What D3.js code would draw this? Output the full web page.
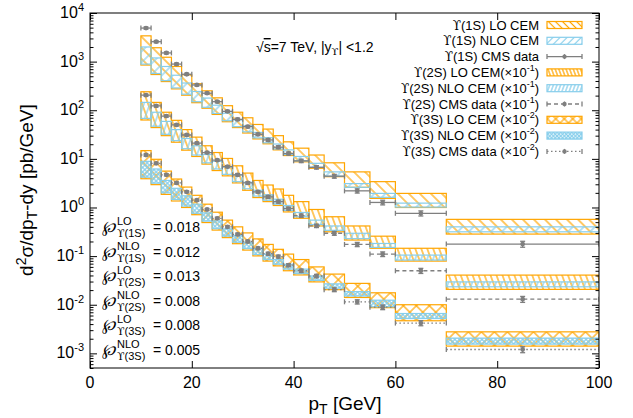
<!DOCTYPE html>
<html>
<head>
<meta charset="utf-8">
<script src="https://cdn.jsdelivr.net/npm/d3@7"></script>
<style>
  body { margin: 0; background: #fff; }
  text { font-family: "Liberation Sans", Arial, sans-serif; }
</style>
</head>
<body>
<div id="chart"></div>
<script>
// pT bins [GeV]
const binEdges = [10,12,14,16,18,20,22,24,26,28,30,32,34,36,38,40,43,46,50,55,60,70,100];

// CMS data (2S scaled x1e-1, 3S scaled x1e-2)
const data1S = [4900,2570,1510,890,550,331,224,150,95,65,46,32,24.5,17.4,12.9,9.1,6.7,4.4,2.2,1.27,0.76,0.177];
const data2S = [204,123,76,50,31,21,13.5,9.4,6.9,4.7,3.2,2.1,1.66,1.32,0.95,0.68,0.42,0.295,0.174,0.11,0.050,0.013];
const data3S = [12.0,8.1,4.7,3.2,2.1,1.41,0.91,0.60,0.40,0.28,0.20,0.145,0.112,0.098,0.065,0.050,0.039,0.0204,0.0115,0.0089,0.0042,0.0012];
const relErr = [0.05,0.05,0.05,0.05,0.05,0.05,0.05,0.05,0.05,0.06,0.06,0.06,0.07,0.07,0.07,0.08,0.08,0.09,0.10,0.11,0.12,0.14];

// CEM bands
const lo1S_LO  = [850,543,389,275,204,143,110,82,58,44,34,25.7,20.4,15.3,11.7,8.7,6.4,4.3,2.6,1.54,1.0,0.284];
const hi1S_LO  = [3390,1930,1230,794,537,351,251,180,124,91,70,51,41,30,22.4,16.6,12.0,8.3,5.4,3.4,1.95,0.57];
const lo1S_NLO = [890,570,407,288,214,150,115,86,61,46,36,27,21.4,16.0,12.3,9.1,6.7,4.4,2.6,1.62,1.02,0.316];
const hi1S_NLO = [2000,1190,794,525,363,243,178,127,87,63,48,35,27.2,20.2,15.3,11.2,8.1,5.4,3.1,1.95,1.23,0.40];

const lo2S_LO  = [63,44,30,22,15.1,11.2,7.8,5.75,4.47,3.2,2.26,1.6,1.32,1.10,0.81,0.60,0.417,0.316,0.214,0.145,0.079,0.0207];
const hi2S_LO  = [240,145,91,62,40,28,18.6,13.5,10.2,7.2,5.1,3.6,2.9,2.4,1.78,1.32,0.91,0.645,0.417,0.257,0.145,0.0407];
const lo2S_NLO = [68,47,32,23.7,16.2,12.0,8.3,6.2,4.8,3.4,2.43,1.72,1.41,1.17,0.87,0.645,0.447,0.339,0.229,0.151,0.083,0.0234];
const hi2S_NLO = [145,91,59,40,26.3,18.6,12.3,8.9,6.8,4.7,3.3,2.26,1.82,1.48,1.10,0.79,0.55,0.417,0.295,0.182,0.105,0.0295];

const lo3S_LO  = [3.9,2.95,1.86,1.36,1.0,0.71,0.49,0.343,0.24,0.18,0.133,0.101,0.079,0.063,0.050,0.041,0.0295,0.0204,0.0141,0.0087,0.00468,0.00141];
const hi3S_LO  = [14.8,9.8,5.6,3.85,2.63,1.78,1.17,0.80,0.55,0.40,0.30,0.226,0.174,0.138,0.110,0.085,0.060,0.0427,0.0275,0.0176,0.0100,0.00277];
const lo3S_NLO = [4.2,3.16,2.0,1.46,1.07,0.76,0.525,0.367,0.257,0.193,0.143,0.108,0.085,0.068,0.054,0.0437,0.0316,0.0219,0.0151,0.0091,0.0052,0.00155];
const hi3S_NLO = [8.9,6.2,3.6,2.48,1.74,1.17,0.776,0.53,0.363,0.266,0.193,0.143,0.110,0.085,0.068,0.054,0.039,0.0269,0.0186,0.0124,0.0066,0.00206];

const xTicks = [0,20,40,60,80,100];
const yExps = [-3,-2,-1,0,1,2,3,4];

const pLabels = ["LO","NLO","LO","NLO","LO","NLO"];
const pStates = ["1S","1S","2S","2S","3S","3S"];
const pValues = ["0.018","0.012","0.013","0.008","0.008","0.005"];

const orange = "#ffa500", blue = "#87ceeb", gray = "#7f7f7f";

let svg = d3.select("#chart")
              .append("svg")
                .attr("width",633)
                .attr("height",418)
;

let plot = {left:90, right:599, top:13, bottom:368};

let x = d3.scaleLinear().domain([0,100]).range([plot.left, plot.right]);
let y = d3.scaleLog().domain([5e-4,1e4]).range([plot.bottom, plot.top]);

let defs = svg.append("defs");

// hatch patterns, gnuplot style
function addHatch(id, color, angle, gap, cross){
  let p = defs.append("pattern")
      .attr("id", id)
      .attr("patternUnits","userSpaceOnUse")
      .attr("width", gap).attr("height", gap)
      .attr("patternTransform", "rotate(" + angle + ")");
  p.append("line")
      .attr("x1", gap/2).attr("y1", 0).attr("x2", gap/2).attr("y2", gap)
      .attr("stroke", color).attr("stroke-width", 1.2);
  if (cross) {
    p.append("line")
        .attr("x1", 0).attr("y1", gap/2).attr("x2", gap).attr("y2", gap/2)
        .attr("stroke", color).attr("stroke-width", 1.2);
  }
}
addHatch("p1LO", orange, -45, 7.8, false);
addHatch("p1NLO", blue, 45, 7.8, false);
addHatch("p2LO", orange, -20, 5.6, false);
addHatch("p2NLO", blue, 20, 5.6, false);
addHatch("p3LO", orange, 45, 9.2, true);
addHatch("p3NLO", blue, 45, 3.2, true);
// smaller versions for the key
addHatch("k1LO", orange, -45, 5, false);
addHatch("k1NLO", blue, 45, 5, false);
addHatch("k2LO", orange, -20, 3.4, false);
addHatch("k2NLO", blue, 20, 3.4, false);
addHatch("k3LO", orange, 45, 6, true);
addHatch("k3NLO", blue, 45, 2.6, true);

defs.append("clipPath").attr("id","clip")
    .append("rect")
      .attr("x", plot.left).attr("y", plot.top)
      .attr("width", plot.right-plot.left).attr("height", plot.bottom-plot.top);

let area = svg.append("g").attr("clip-path","url(#clip)");

function drawBand(lo, hi, pat, color){
  area.append("g").selectAll("rect")
      .data(lo)
      .join("rect")
        .attr("x", function(d,i){ return x(binEdges[i]); })
        .attr("width", function(d,i){ return x(binEdges[i+1]) - x(binEdges[i]); })
        .attr("y", function(d,i){ return y(hi[i]); })
        .attr("height", function(d,i){ return y(lo[i]) - y(hi[i]); })
        .attr("fill", "url(#" + pat + ")")
        .attr("stroke", color)
        .attr("stroke-width", 1.2)
  ;
}

function drawData(vals, dash){
  let g = area.append("g").attr("stroke", gray).attr("stroke-width", 1.3);
  for (let i = 0; i < vals.length; i++){
    let x0 = x(binEdges[i]), x1 = x(binEdges[i+1]);
    let xc = x((binEdges[i] + binEdges[i+1]) / 2);
    let yc = y(vals[i]);
    let yh = y(vals[i] * (1 + relErr[i])), yl = y(vals[i] * (1 - relErr[i]));
    g.append("line").attr("x1", x0).attr("x2", x1).attr("y1", yc).attr("y2", yc)
        .attr("stroke-dasharray", dash);
    g.append("line").attr("x1", x0).attr("x2", x0).attr("y1", yc-2.5).attr("y2", yc+2.5);
    g.append("line").attr("x1", x1).attr("x2", x1).attr("y1", yc-2.5).attr("y2", yc+2.5);
    g.append("line").attr("x1", xc).attr("x2", xc).attr("y1", yh).attr("y2", yl);
    g.append("line").attr("x1", xc-2.5).attr("x2", xc+2.5).attr("y1", yh).attr("y2", yh);
    g.append("line").attr("x1", xc-2.5).attr("x2", xc+2.5).attr("y1", yl).attr("y2", yl);
    g.append("circle").attr("cx", xc).attr("cy", yc).attr("r", 2.4)
        .attr("fill", gray).attr("stroke", "none");
  }
}

drawBand(lo1S_LO, hi1S_LO, "p1LO", orange);
drawBand(lo1S_NLO, hi1S_NLO, "p1NLO", blue);
drawData(data1S, null);
drawBand(lo2S_LO, hi2S_LO, "p2LO", orange);
drawBand(lo2S_NLO, hi2S_NLO, "p2NLO", blue);
drawData(data2S, "4,3");
drawBand(lo3S_LO, hi3S_LO, "p3LO", orange);
drawBand(lo3S_NLO, hi3S_NLO, "p3NLO", blue);
drawData(data3S, "1.5,2.5");

// axes: ticks inward, mirrored
let minors = [];
for (let e = -4; e < 4; e++){
  for (let m = 2; m <= 9; m++){
    let v = m * Math.pow(10, e);
    if (v >= 5e-4 && v <= 1e4) minors.push(v);
  }
}
let majors = yExps.map(function(e){ return Math.pow(10, e); });

svg.append("g").attr("transform","translate(0," + plot.bottom + ")")
    .call(d3.axisBottom(x).tickValues(xTicks).tickSize(-7).tickFormat(""));
svg.append("g").attr("transform","translate(0," + plot.top + ")")
    .call(d3.axisTop(x).tickValues(xTicks).tickSize(-7).tickFormat(""));
svg.append("g").attr("transform","translate(" + plot.left + ",0)")
    .call(d3.axisLeft(y).tickValues(majors).tickSize(-7).tickFormat(""));
svg.append("g").attr("transform","translate(" + plot.left + ",0)")
    .call(d3.axisLeft(y).tickValues(minors).tickSize(-3.5).tickFormat(""));
svg.append("g").attr("transform","translate(" + plot.right + ",0)")
    .call(d3.axisRight(y).tickValues(majors).tickSize(-7).tickFormat(""));
svg.append("g").attr("transform","translate(" + plot.right + ",0)")
    .call(d3.axisRight(y).tickValues(minors).tickSize(-3.5).tickFormat(""));
svg.selectAll(".domain").remove();
svg.selectAll(".tick line").attr("stroke","#000");

svg.append("rect")
    .attr("x", plot.left).attr("y", plot.top)
    .attr("width", plot.right-plot.left).attr("height", plot.bottom-plot.top)
    .attr("fill","none").attr("stroke","#000").attr("stroke-width",1);

// tick labels
svg.append("g").selectAll("text")
    .data(xTicks)
    .join("text")
      .attr("x", function(d){ return x(d); })
      .attr("y", 388)
      .attr("text-anchor","middle")
      .attr("font-size", 16)
      .text(function(d){ return d; })
;

let yl = svg.append("g").selectAll("text")
    .data(yExps)
    .join("text")
      .attr("x", 84)
      .attr("y", function(d){ return y(Math.pow(10, d)) + 5; })
      .attr("text-anchor","end")
      .attr("font-size", 16)
;
yl.append("tspan").text("10");
yl.append("tspan").attr("font-size", 11).attr("dy", -7).text(function(d){ return d; });

// axis titles
let xt = svg.append("text").attr("x", 345).attr("y", 410)
    .attr("text-anchor","middle").attr("font-size", 19);
xt.append("tspan").text("p");
xt.append("tspan").attr("font-size", 14).attr("dy", 4).text("T");
xt.append("tspan").attr("dy", -4).text(" [GeV]");

let yt = svg.append("text").attr("transform","translate(33,190) rotate(-90)")
    .attr("text-anchor","middle").attr("font-size", 19);
yt.append("tspan").text("d");
yt.append("tspan").attr("font-size", 14).attr("dy", -7).text("2");
yt.append("tspan").attr("dy", 7).text("σ/dp");
yt.append("tspan").attr("font-size", 14).attr("dy", 4).text("T");
yt.append("tspan").attr("dy", -4).text("-dy [pb/GeV]");

// energy label
let en = svg.append("text").attr("x", 256).attr("y", 52).attr("font-size", 14);
en.append("tspan").text("√");
en.append("tspan").attr("text-decoration","overline").text("s");
en.append("tspan").text("=7 TeV, |y");
en.append("tspan").attr("font-size", 10).attr("dy", 3).attr("font-family","DejaVu Serif").text("ϒ");
en.append("tspan").attr("dy", -3).text("| <1.2");

// key
const keyNames = ["(1S) LO CEM","(1S) NLO CEM","(1S) CMS data","(2S) LO CEM(×10","(2S) NLO CEM (×10","(2S) CMS data (×10","(3S) LO CEM (×10","(3S) NLO CEM (×10","(3S) CMS data (×10"];
const keyExp = ["","","","-1","-1","-1","-2","-2","-2"];
const keyKind = ["k1LO","k1NLO","solid","k2LO","k2NLO","dash","k3LO","k3NLO","dot"];

let key = svg.append("g");
keyNames.forEach(function(name, i){
  let yy = 25 + i * 15.8;
  let t = key.append("text").attr("x", 539).attr("y", yy + 4.5)
      .attr("text-anchor","end").attr("font-size", 13);
  t.append("tspan").attr("font-family","DejaVu Serif").attr("font-size", 12).text("ϒ");
  t.append("tspan").text(name);
  if (keyExp[i] !== "") {
    t.append("tspan").attr("font-size", 9).attr("dy", -6).text(keyExp[i]);
    t.append("tspan").attr("dy", 6).text(")");
  }
  let k = keyKind[i];
  if (k.charAt(0) === "k") {
    let c = k.indexOf("NLO") > 0 ? blue : orange;
    key.append("rect").attr("x", 547).attr("y", yy - 3.5).attr("width", 35).attr("height", 7)
        .attr("fill", "url(#" + k + ")").attr("stroke", c).attr("stroke-width", 1.2);
  } else {
    let dash = k === "dash" ? "4,3" : (k === "dot" ? "1.5,2.5" : null);
    key.append("line").attr("x1", 547).attr("x2", 582).attr("y1", yy).attr("y2", yy)
        .attr("stroke", gray).attr("stroke-width", 1.3).attr("stroke-dasharray", dash);
    key.append("line").attr("x1", 547).attr("x2", 547).attr("y1", yy-2.5).attr("y2", yy+2.5)
        .attr("stroke", gray).attr("stroke-width", 1.3);
    key.append("line").attr("x1", 582).attr("x2", 582).attr("y1", yy-2.5).attr("y2", yy+2.5)
        .attr("stroke", gray).attr("stroke-width", 1.3);
    key.append("line").attr("x1", 564.5).attr("x2", 564.5).attr("y1", yy-2.5).attr("y2", yy+2.5)
        .attr("stroke", gray).attr("stroke-width", 1.3);
    key.append("circle").attr("cx", 564.5).attr("cy", yy).attr("r", 2.2).attr("fill", gray);
  }
});

// normalisation parameters
pValues.forEach(function(v, i){
  let yy = 227 + i * 24.6;
  svg.append("text").attr("x", 102).attr("y", yy + 5).attr("font-size", 16)
      .attr("font-family","DejaVu Serif").attr("font-style","italic").text("℘");
  svg.append("text").attr("x", 117).attr("y", yy - 2).attr("font-size", 11).text(pLabels[i]);
  let s = svg.append("text").attr("x", 117).attr("y", yy + 10).attr("font-size", 11);
  s.append("tspan").attr("font-family","DejaVu Serif").text("ϒ");
  s.append("tspan").text("(" + pStates[i] + ")");
  svg.append("text").attr("x", 153).attr("y", yy + 5).attr("font-size", 14).text("= " + v);
});
</script>
</body>
</html>
